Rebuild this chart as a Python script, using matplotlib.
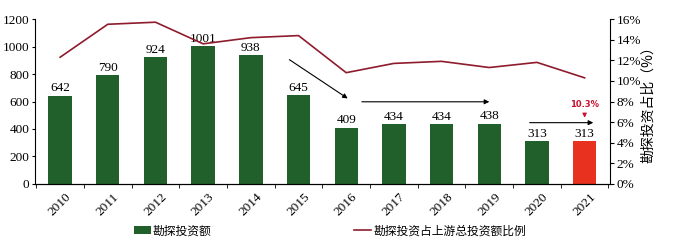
import matplotlib.pyplot as plt
import numpy as np

plt.rcParams['font.family'] = ['Liberation Serif', 'Noto Sans CJK SC']

years = ["2010", "2011", "2012", "2013", "2014", "2015", "2016",
         "2017", "2018", "2019", "2020", "2021"]
invest = [642, 790, 924, 1001, 938, 645, 409, 434, 434, 438, 313, 313]
ratio = [12.3, 15.5, 15.7, 13.6, 14.2, 14.4, 10.8, 11.7, 11.9, 11.3, 11.8, 10.3]

green = "#22602b"
red = "#e8321f"
line_red = "#8e1c2c"

fig = plt.figure(figsize=(6.97, 2.42), dpi=100)
ax = fig.add_axes([0.050, 0.24, 0.825, 0.681])
x = np.arange(len(years))
colors = [green] * (len(years) - 1) + [red]
bars = ax.bar(x, invest, width=0.49, color=colors, zorder=2)
for xi, v in zip(x, invest):
    ax.text(xi, v + 10, str(v), ha="center", va="bottom", fontsize=9.5)

ax.set_xlim(-0.53, len(years) - 0.47)
ax.set_ylim(0, 1200)
ax.set_yticks(range(0, 1201, 200))
ax.set_xticks(x)
ax.set_xticklabels(years, rotation=45, ha="center", fontsize=9.5)
ax.set_xticks(np.arange(-0.5, len(years), 1), minor=True)
ax.tick_params(axis="x", which="major", length=0, pad=5)
ax.tick_params(axis="x", which="minor", length=3, direction="out")
ax.tick_params(axis="y", labelsize=9.5, length=2, pad=2)
ax.spines["top"].set_visible(False)
ax.spines["right"].set_visible(False)

ax2 = ax.twinx()
ax2.plot(x, ratio, color=line_red, lw=1.2, zorder=3)
ax2.set_ylim(0, 16)
ax2.set_yticks(range(0, 17, 2))
ax2.set_yticklabels([f"{t}%" for t in range(0, 17, 2)])
ax2.tick_params(axis="y", labelsize=9.5, length=3, pad=2)
ax2.spines["top"].set_visible(False)
ax2.spines["left"].set_visible(False)
ax2.set_ylabel("勘探投资占比（%）", family=["Noto Sans CJK SC"], fontsize=10, labelpad=0)

# trend arrows
arr = dict(arrowstyle="-|>", color="black", lw=0.8, mutation_scale=7)
ax.annotate("", xy=(6.08, 611), xytext=(4.76, 916), arrowprops=arr)
ax.annotate("", xy=(9.06, 598), xytext=(6.27, 598), arrowprops=arr)
ax.annotate("", xy=(11.24, 446), xytext=(9.79, 446), arrowprops=arr)
ax.annotate("10.3%", xy=(11, 462), xytext=(11, 545), ha="center", va="bottom",
            fontsize=6, color="#c8102e", fontweight="bold", family=["DejaVu Sans"],
            arrowprops=dict(arrowstyle="-|>", color="#c8102e", lw=0.8, mutation_scale=6))

handles = [bars, ax2.lines[0]]
fig.legend(handles, ["勘探投资额", "勘探投资占上游总投资额比例"],
           loc="lower left", bbox_to_anchor=(0.177, -0.025), ncol=2, frameon=False,
           prop={"family": "Noto Sans CJK SC", "size": 8.5}, columnspacing=12.1,
           handlelength=1.4, handletextpad=0.2)

fig.savefig("out.png", dpi=100)
